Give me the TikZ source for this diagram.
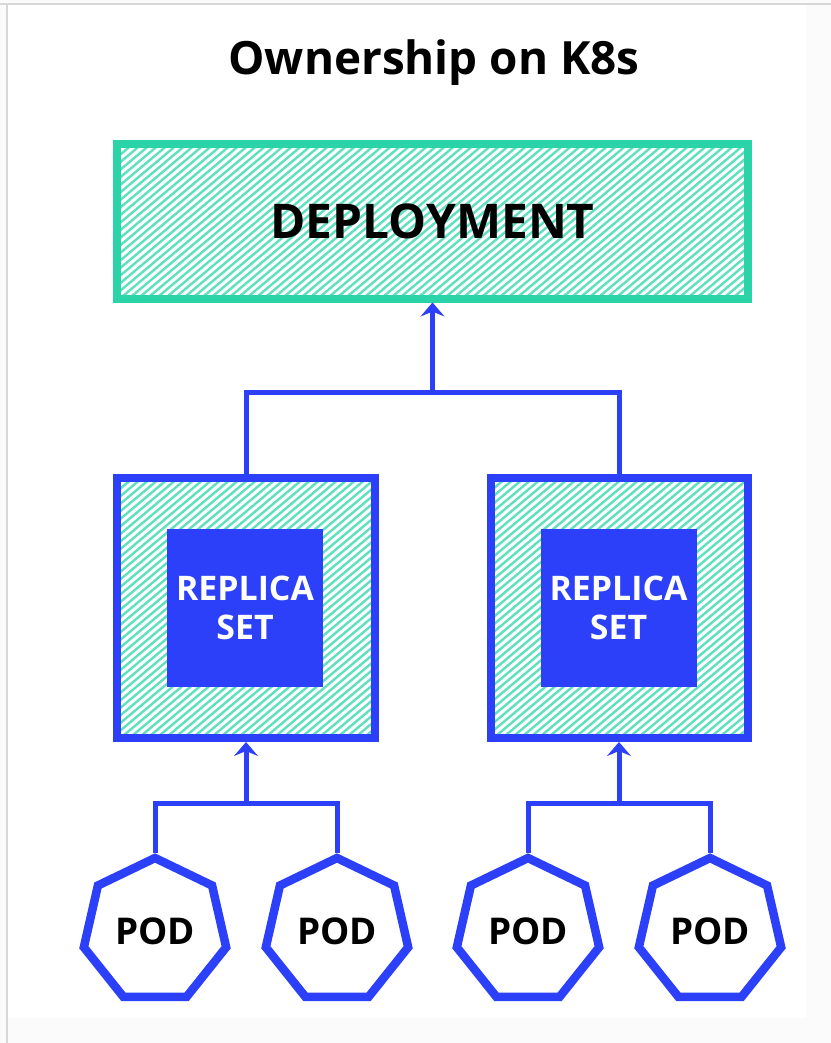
\documentclass[tikz,border=0pt]{standalone}
\usepackage{fontspec}
\setmainfont{Open Sans}
\usetikzlibrary{arrows.meta}
\usetikzlibrary{shapes.geometric}

\definecolor{kblue}{RGB}{43,64,248}
\definecolor{kgreen}{RGB}{42,212,168}
\definecolor{khatch}{RGB}{95,224,192}
\definecolor{kline}{RGB}{215,215,215}

\tikzset{
  hatch/.style={path picture={
      \foreach \s in {-330,-321,...,650}
        \draw[khatch,line width=2.4bp] ([xshift=\s bp]path picture bounding box.south west) -- ++(400,-336);
    }},
  deploybox/.style={draw=kgreen,line width=8bp,hatch,minimum width=631bp,minimum height=155bp,
    font=\bfseries\fontsize{48}{52}\selectfont},
  rsbox/.style={draw=kblue,line width=8bp,hatch,minimum width=257bp,minimum height=260bp},
  rscore/.style={fill=kblue,text=white,minimum width=156bp,minimum height=158bp,align=center,
    font=\bfseries\fontsize{34}{39}\selectfont},
  podshape/.style={regular polygon,regular polygon sides=7,draw=kblue,line width=8.5bp,fill=white,
    minimum size=146bp,inner sep=0pt,font=\bfseries\fontsize{37}{37}\selectfont},
  link/.style={draw=kblue,line width=5bp},
  owns/.style={link,-{Stealth[length=14bp,width=24bp,inset=5bp]}}
}

\begin{document}
\begin{tikzpicture}[x=1bp,y=-1bp]
  \useasboundingbox (0,0) rectangle (831,1043);
  \fill[gray!3] (0,0) rectangle (831,1043);
  \fill[white] (7,4) rectangle (806,1018);
  \draw[kline,line width=1.2bp] (0,4) -- (831,4);
  \draw[kline,line width=1.2bp] (7,4) -- (7,1043);

  \node[font=\bfseries\fontsize{46}{50}\selectfont] (title) at (434,63) {Ownership on K8s};

  \node[deploybox] (deploy) at (432.5,221) {DEPLOYMENT};

  % replica sets
  \node[rsbox] (rsA) at (246,608) {};
  \node[rsbox] (rsB) at (619,608) {};
  \node[rscore] (rsinA) at (245,608) {REPLICA\\SET};
  \node[rscore] (rsinB) at (618.5,608) {REPLICA\\SET};

  % pods
  \node[podshape] (podA1) at (155,931) {POD};
  \node[podshape] (podA2) at (337,931) {POD};
  \node[podshape] (podB1) at (528,931) {POD};
  \node[podshape] (podB2) at (710,931) {POD};

  \coordinate (topjoin) at (432.5,392);
  \coordinate (joinA) at (246,803);
  \coordinate (joinB) at (619,803);

  \draw[link] (rsA.north) |- (topjoin) -| (rsB.north);
  \draw[owns] (topjoin) -- (deploy.south);

  \draw[link] (podA1.corner 1) |- (joinA) -| (podA2.corner 1);
  \draw[owns] (joinA) -- (rsA.south);
  \draw[link] (podB1.corner 1) |- (joinB) -| (podB2.corner 1);
  \draw[owns] (joinB) -- (rsB.south);
\end{tikzpicture}
\end{document}
